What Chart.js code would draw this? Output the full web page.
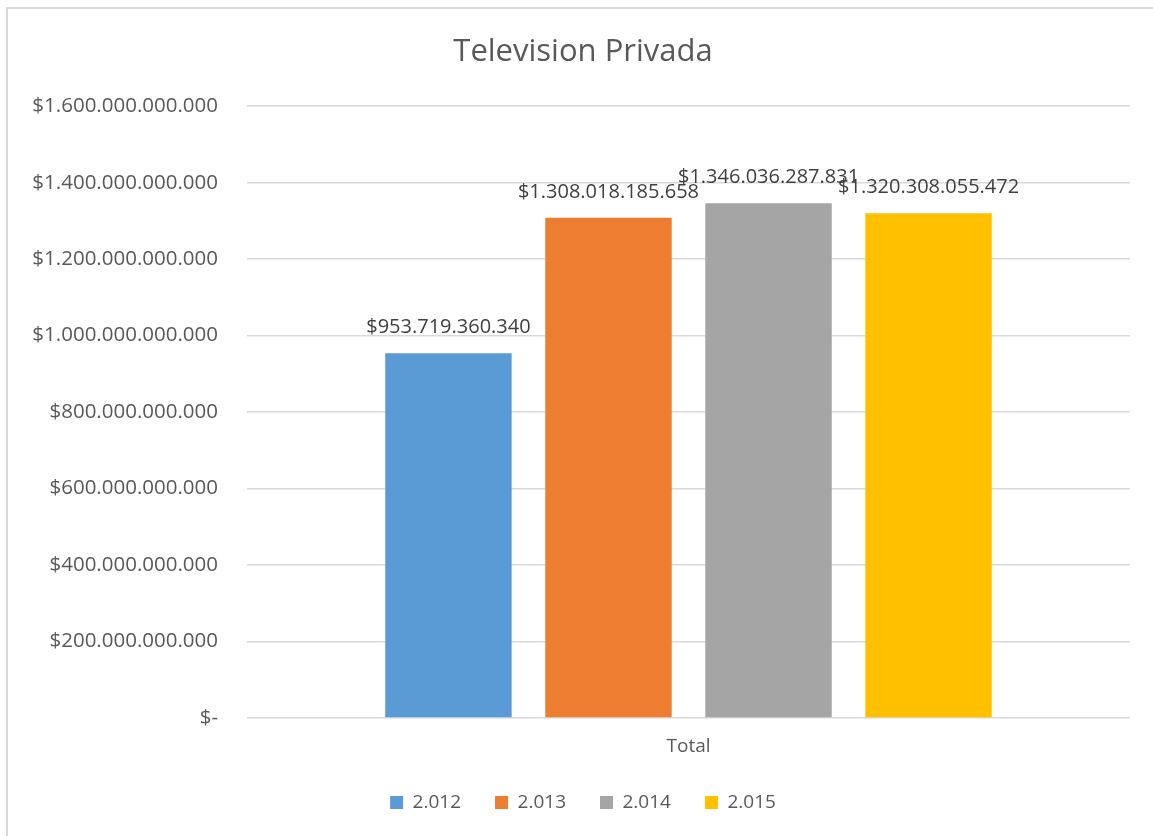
<!DOCTYPE html>
<html>
<head>
<meta charset="utf-8">
<script src="https://cdn.jsdelivr.net/npm/chart.js@4.4.1/dist/chart.umd.min.js"></script>
<style>
  html, body { margin: 0; padding: 0; background: #fff; overflow: hidden; }
  #marco { position: absolute; left: 6px; top: 7px; width: 1170px; height: 850px; border: 2px solid #d9d9d9; }
  #wrap { position: absolute; left: 0; top: 0; width: 1153px; height: 836px; }
</style>
</head>
<body>
<div id="marco"></div>
<div id="wrap"><canvas id="chartTv"></canvas></div>
<script>
// Datos del grafico
const categorias = ['Total'];
const anios = ['2.012', '2.013', '2.014', '2.015'];
const valores = [953719360340, 1308018185658, 1346036287831, 1320308055472];
const colores = ['#5B9BD5', '#ED7D31', '#A5A5A5', '#FFC000'];
const fuente = "'Open Sans', sans-serif";

// Formato tipo moneda con puntos de miles
function formatoPesos(v) {
    if (v === 0) return '$-';
    return '$' + Math.round(v).toString().replace(/\B(?=(\d{3})+(?!\d))/g, '.');
}

// Plugin para dibujar las etiquetas encima de cada barra
const etiquetasBarras = {
    id: 'etiquetasBarras',
    afterLayout(chart) {
        // evitar que se recorten las etiquetas del eje y
        chart.scales.y.left = 0;
    },
    afterDatasetsDraw(chart) {
        const ctx = chart.ctx;
        ctx.save();
        ctx.font = '20px ' + fuente;
        ctx.fillStyle = '#404040';
        ctx.textAlign = 'center';
        ctx.textBaseline = 'middle';
        chart.data.datasets.forEach((ds, i) => {
            chart.getDatasetMeta(i).data.forEach((bar, j) => {
                ctx.fillText(formatoPesos(ds.data[j]), bar.x, bar.y - 26);
            });
        });
        ctx.restore();
    }
};

const datasets = anios.map((anio, i) => ({
    label: anio,
    data: [valores[i]],
    backgroundColor: colores[i],
    borderWidth: 0,
    categoryPercentage: 0.725,
    barPercentage: 0.79
}));

new Chart(document.getElementById('chartTv').getContext('2d'), {
    type: 'bar',
    data: { labels: categorias, datasets: datasets },
    options: {
        responsive: true,
        maintainAspectRatio: false,
        animation: false,
        layout: { padding: { top: 20, right: 23, bottom: 14, left: 36 } },
        plugins: {
            title: {
                display: true,
                text: 'Television Privada',
                color: '#595959',
                font: { family: fuente, size: 31, weight: 'normal' },
                padding: { top: 14, bottom: 35 }
            },
            legend: {
                position: 'bottom',
                labels: {
                    color: '#595959',
                    font: { family: fuente, size: 19 },
                    boxWidth: 13,
                    boxHeight: 13,
                    padding: 34
                }
            },
            tooltip: { enabled: false }
        },
        scales: {
            x: {
                grid: { display: false },
                border: { display: false },
                ticks: { color: '#595959', padding: 9, font: { family: fuente, size: 19 } },
                afterFit(scale) { scale.height = 41; }
            },
            y: {
                min: 0,
                max: 1600000000000,
                ticks: {
                    stepSize: 200000000000,
                    color: '#595959',
                    padding: 29,
                    font: { family: fuente, size: 20.5 },
                    callback: v => formatoPesos(v)
                },
                grid: { color: '#d9d9d9', lineWidth: 1.5, drawTicks: false },
                border: { display: false },
                afterFit(scale) { scale.width = 211; }
            }
        }
    },
    plugins: [etiquetasBarras]
});
</script>
</body>
</html>
